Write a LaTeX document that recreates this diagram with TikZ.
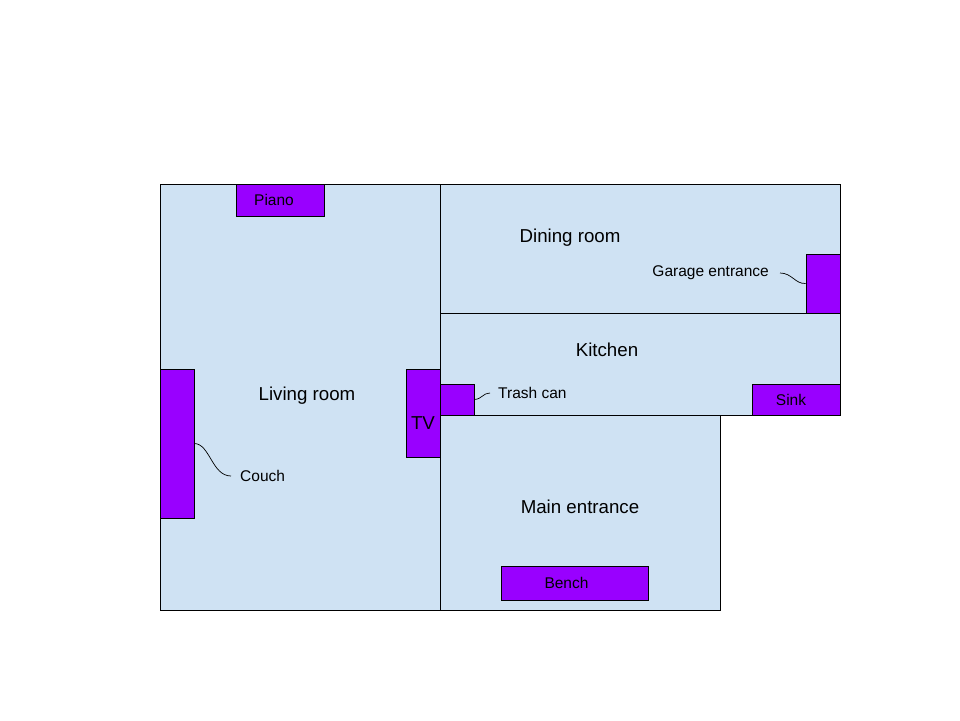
\documentclass[tikz,border=0pt]{standalone}
\usepackage{fontspec}
\setmainfont{Liberation Sans}
\definecolor{roomblue}{HTML}{CFE2F3}
\definecolor{furniture}{HTML}{9900FF}

\begin{document}
\begin{tikzpicture}[x = 1pt, y = -1pt,
    room/.style = {draw, fill=roomblue, line width=0.9pt},
    roomname/.style = {font=\fontsize{18.7}{20}\selectfont},
    item/.style = {draw, fill=furniture, line width=0.9pt, inner sep=0pt, font=\fontsize{15.5}{17}\selectfont},
    tag/.style = {anchor=west, inner sep=0pt, font=\fontsize{15.5}{17}\selectfont},
    wire/.style = {line width=0.7pt}]
        \useasboundingbox (0,0) rectangle (960,720);
        \draw[room] (160,184) rectangle (440,610);
        \draw[room] (440,184) rectangle (840,313);
        \draw[room] (440,313) rectangle (840,415);
        \draw[room] (440,415) rectangle (720,610);
        \node[roomname] (living) at (307,396) {Living room};
        \node[roomname] (dining) at (570,238) {Dining room};
        \node[roomname] (kitchen) at (607,350) {Kitchen};
        \node[roomname] (entrance) at (580,507) {Main entrance};
        \node[item, minimum width=88pt, minimum height=32pt] (piano) at (280,200) {\hspace*{-12pt}Piano};
        \node[item, minimum width=34pt, minimum height=149pt] (couch) at (177,443.5) {};
        \node[item, minimum width=34pt, minimum height=88pt, text height=33pt, text depth=0pt, font=\fontsize{18.7}{20}\selectfont] (tv) at (423,413) {TV};
        \node[item, minimum width=34pt, minimum height=31pt] (trash) at (457,399.5) {};
        \node[item, minimum width=88pt, minimum height=31pt] (sink) at (796,399.5) {\hspace*{-10pt}Sink};
        \node[item, minimum width=34pt, minimum height=59pt] (garage) at (823,283.5) {};
        \node[item, minimum width=147pt, minimum height=34pt] (bench) at (574.5,583) {\hspace*{-16pt}Bench};
        \node[tag] (couchtag) at (240,476) {Couch};
        \node[tag] (trashtag) at (498,393) {Trash can};
        \node[tag, anchor=east] (garagetag) at (769,273) {Garage entrance};
        \draw[wire] (couch.east) .. controls (210,444) and (212,476) .. ([xshift=-9pt]couchtag.west);
        \draw[wire] (trash.east) .. controls (482,399) and (483,393) .. ([xshift=-8pt]trashtag.west);
        \draw[wire] (garage.west) .. controls (795,284) and (792,273) .. ([xshift=11pt]garagetag.east);
      \end{tikzpicture}
\end{document}
